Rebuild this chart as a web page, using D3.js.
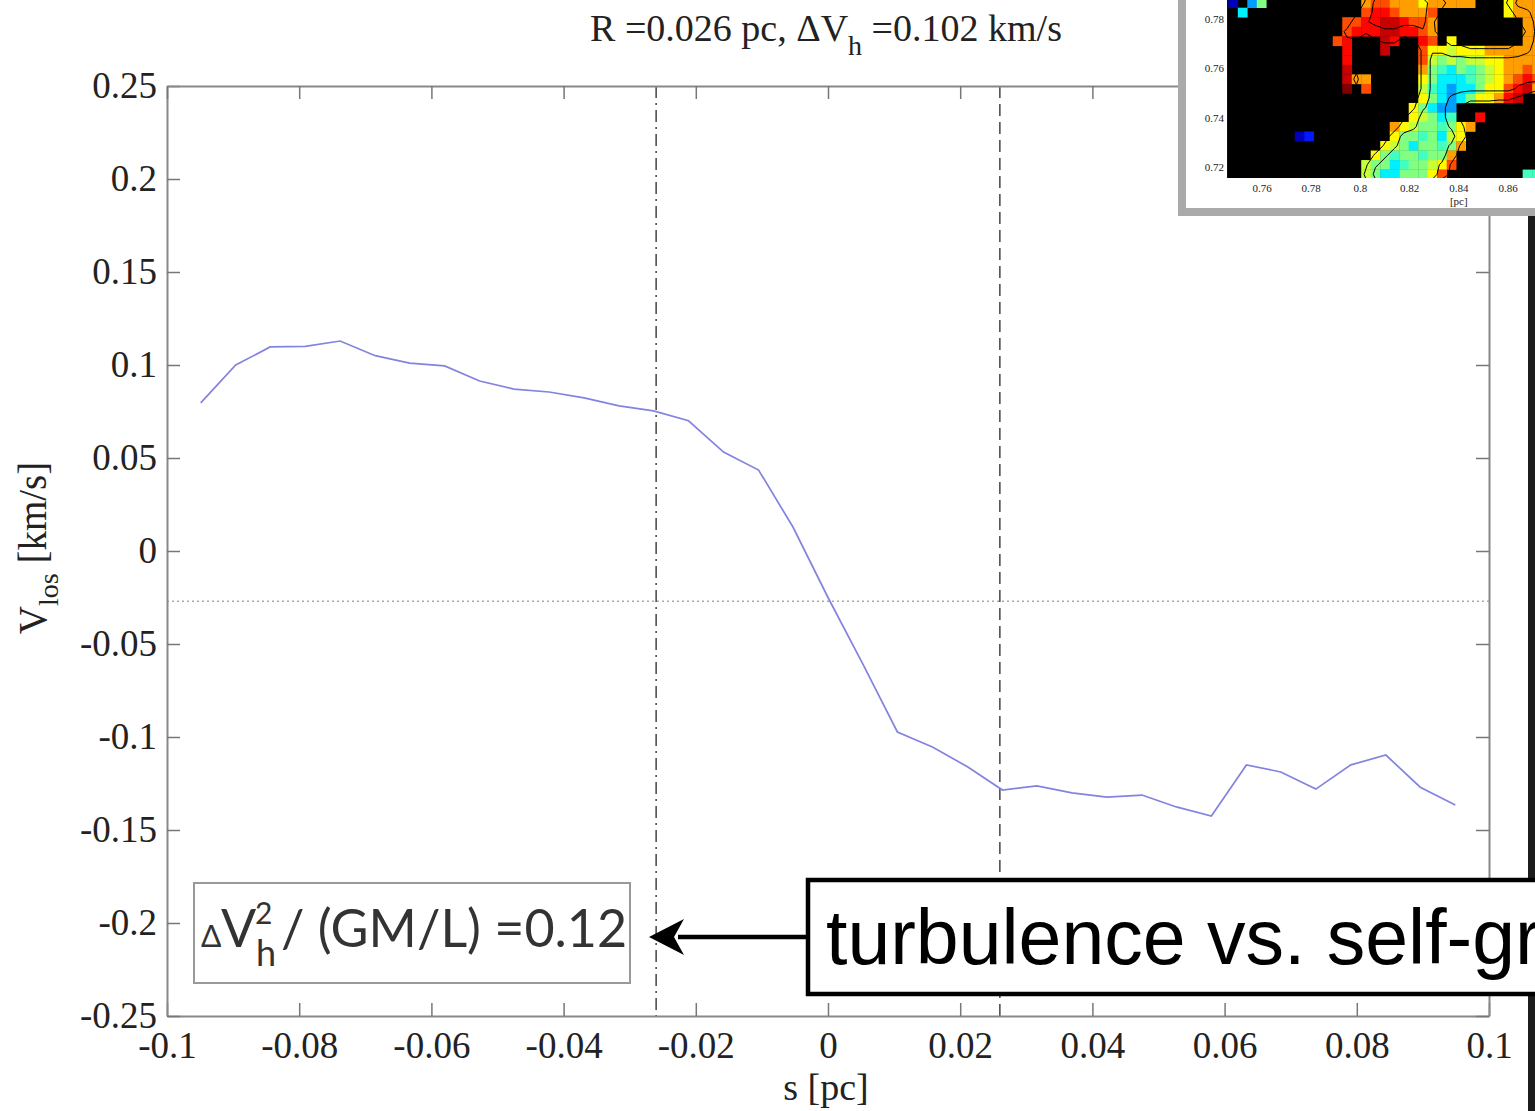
<!DOCTYPE html>
<html>

<head>
    <meta charset="utf-8">
    <title>Velocity profile</title>
    <script src="https://d3js.org/d3.v7.min.js"></script>
    <style>
        body {
            margin: 0;
            background: #fff;
        }

        .serif {
            font-family: "Liberation Serif", "Times New Roman", serif;
            fill: #222;
        }
    </style>
</head>

<body>
    <div id="chart"></div>
    <script>
        // profile along the cut (s in pc, V_los in km/s)
        const sValues = [-0.0949, -0.0896, -0.0844, -0.0791, -0.0738, -0.0685, -0.0633, -0.0580, -0.0527,
            -0.0475, -0.0422, -0.0369, -0.0316, -0.0264, -0.0211, -0.0158, -0.0105, -0.0053, 0,
            0.0053, 0.0105, 0.0158, 0.0211, 0.0264, 0.0316, 0.0369, 0.0422, 0.0475, 0.0527,
            0.0580, 0.0633, 0.0685, 0.0738, 0.0791, 0.0844, 0.0896, 0.0949]
        const vlosValues = [0.0796, 0.100, 0.1097, 0.110, 0.1129, 0.105, 0.101, 0.0995, 0.0914,
            0.087, 0.0855, 0.0823, 0.078, 0.0753, 0.070, 0.0532, 0.0435, 0.0129, -0.025,
            -0.061, -0.0973, -0.1054, -0.116, -0.1285, -0.1263, -0.130, -0.1323, -0.1312, -0.1376,
            -0.1425, -0.115, -0.1188, -0.128, -0.115, -0.1097, -0.127, -0.1366]

        const radius = 0.026        // R, marked by the two vertical lines
        const meanVlos = -0.027     // dotted horizontal line

        const xTicks = [-0.1, -0.08, -0.06, -0.04, -0.02, 0, 0.02, 0.04, 0.06, 0.08, 0.1]
        const xTickLabels = ["-0.1", "-0.08", "-0.06", "-0.04", "-0.02", "0", "0.02", "0.04", "0.06", "0.08", "0.1"]
        const yTicks = [-0.25, -0.2, -0.15, -0.1, -0.05, 0, 0.05, 0.1, 0.15, 0.2, 0.25]
        const yTickLabels = ["-0.25", "-0.2", "-0.15", "-0.1", "-0.05", "0", "0.05", "0.1", "0.15", "0.2", "0.25"]

        // inset map: one string per row, top row first; letters are velocity levels, "." is empty
        const heatRows = [
            "B.lg..........oOOoooYooooo...Yooo",
            ".c............OrrOoooO.......Yooo",
            "............OOrrRRrOOo.........oo",
            "............OrrrRRrrOo.........oo",
            "...........Or...Rr..rO.Y.......oo",
            "............r...R...OYYyYYYoooooo",
            "............r.......OygygyyYYoooo",
            "............R.......ogtcgtgyYooOo",
            "............Roo.....YgccctgyYoOrO",
            "............D.O.....ytclccgYYOrRo",
            "....................YgclcgYYorR..",
            "...................Ygcll.........",
            "...................Yygct..r......",
            ".................oYyggtgYo.......",
            ".......Bb........YggtgcyY........",
            "................Yygcggtgo........",
            "...............Ygtggtggo.........",
            "..............yggctggyYO.........",
            "..............ygccgggYO........tt"
        ]
        const heatLevels = { B: 0.05, b: 0.15, l: 0.28, c: 0.36, t: 0.44, g: 0.5, y: 0.57, Y: 0.63, o: 0.72, O: 0.8, r: 0.87, R: 0.93, D: 1.0 }
        const insetXTicks = [0.76, 0.78, 0.8, 0.82, 0.84, 0.86]
        const insetXLabels = ["0.76", "0.78", "0.8", "0.82", "0.84", "0.86"]
        const insetYTicks = [0.72, 0.74, 0.76, 0.78]
        const insetYLabels = ["0.72", "0.74", "0.76", "0.78"]

        const width = 1535, height = 1111

        const svg = d3.select("#chart")
            .append("svg")
            .attr("width", width)
            .attr("height", height)

        const x = d3.scaleLinear().domain([-0.1, 0.1]).range([167, 1489])
        const y = d3.scaleLinear().domain([-0.25, 0.25]).range([1016, 86])

        // reference lines
        svg.append("line")
            .attr("x1", x(-0.1)).attr("x2", x(0.1))
            .attr("y1", y(meanVlos)).attr("y2", y(meanVlos))
            .attr("stroke", "#aaa").attr("stroke-width", 1.5)
            .attr("stroke-dasharray", "2,3")
        svg.append("line")
            .attr("x1", x(-radius)).attr("x2", x(-radius))
            .attr("y1", y(0.25)).attr("y2", y(-0.25))
            .attr("stroke", "#444").attr("stroke-width", 1.5)
            .attr("stroke-dasharray", "12,5,2,5")
        svg.append("line")
            .attr("x1", x(radius)).attr("x2", x(radius))
            .attr("y1", y(0.25)).attr("y2", y(-0.25))
            .attr("stroke", "#444").attr("stroke-width", 1.5)
            .attr("stroke-dasharray", "12,6")

        // axes, MATLAB style box with inward ticks
        const styleAxis = g => {
            g.select(".domain").attr("stroke", "#888").attr("stroke-width", 2)
            g.selectAll(".tick line").attr("stroke", "#777").attr("stroke-width", 1.5)
            g.selectAll(".tick text")
                .attr("class", "serif")
                .attr("font-size", 37)
        }
        svg.append("g")
            .attr("transform", `translate(0,${y(-0.25)})`)
            .call(d3.axisBottom(x).tickValues(xTicks).tickSize(-13).tickSizeOuter(0).tickPadding(16)
                .tickFormat((d, i) => xTickLabels[i]))
            .call(styleAxis)
        svg.append("g")
            .attr("transform", `translate(${x(-0.1)},0)`)
            .call(d3.axisLeft(y).tickValues(yTicks).tickSize(-13).tickSizeOuter(0).tickPadding(10)
                .tickFormat((d, i) => yTickLabels[i]))
            .call(styleAxis)
        svg.append("g")
            .attr("transform", `translate(0,${y(0.25)})`)
            .call(d3.axisTop(x).tickValues(xTicks).tickSize(-13).tickSizeOuter(0).tickFormat(""))
            .call(styleAxis)
        svg.append("g")
            .attr("transform", `translate(${x(0.1)},0)`)
            .call(d3.axisRight(y).tickValues(yTicks).tickSize(-13).tickSizeOuter(0).tickFormat(""))
            .call(styleAxis)

        // the profile
        const line = d3.line()
            .x((d, i) => x(sValues[i]))
            .y(d => y(d))
        svg.append("path")
            .datum(vlosValues)
            .attr("d", line)
            .attr("fill", "none")
            .attr("stroke", "#8383e0")
            .attr("stroke-width", 1.7)

        // title and axis labels
        const title = svg.append("text")
            .attr("class", "serif")
            .attr("x", 826).attr("y", 41)
            .attr("text-anchor", "middle")
            .attr("font-size", 38)
        title.append("tspan").text("R =0.026 pc, \u0394V")
        title.append("tspan").attr("dy", 14).attr("font-size", 28).text("h")
        title.append("tspan").attr("dy", -14).text(" =0.102 km/s")

        svg.append("text")
            .attr("class", "serif")
            .attr("x", 826).attr("y", 1100)
            .attr("text-anchor", "middle")
            .attr("font-size", 38)
            .text("s [pc]")

        const ylab = svg.append("text")
            .attr("class", "serif")
            .attr("transform", "translate(46,548) rotate(-90)")
            .attr("text-anchor", "middle")
            .attr("font-size", 39)
        ylab.append("tspan").text("V")
        ylab.append("tspan").attr("dy", 12).attr("font-size", 28).text("los")
        ylab.append("tspan").attr("dy", -12).text(" [km/s]")

        // ratio box
        svg.append("rect")
            .attr("x", 194).attr("y", 883)
            .attr("width", 436).attr("height", 100)
            .attr("fill", "#fff")
            .attr("stroke", "#999").attr("stroke-width", 2)
        const boxFont = "Lato, 'Open Sans', sans-serif"
        const boxText = svg.append("g")
            .attr("font-family", boxFont)
            .attr("fill", "#333")
        boxText.append("text").attr("x", 201).attr("y", 947).attr("font-size", 30).text("\u0394")
        boxText.append("text").attr("x", 221).attr("y", 947).attr("font-size", 52).text("V")
        boxText.append("text").attr("x", 255).attr("y", 924).attr("font-size", 30).text("2")
        boxText.append("text").attr("x", 256).attr("y", 966).attr("font-size", 36).text("h")
        boxText.append("text").attr("x", 281).attr("y", 947).attr("font-size", 52).text("/ (GM/L) =0.12")

        // dark edge on the right
        svg.append("rect")
            .attr("x", 1528).attr("y", 214)
            .attr("width", 7).attr("height", height - 214)
            .attr("fill", "#1c1c1c")

        // annotation with arrow
        svg.append("line")
            .attr("x1", 808).attr("x2", 678)
            .attr("y1", 937).attr("y2", 937)
            .attr("stroke", "#000").attr("stroke-width", 4.5)
        svg.append("path")
            .attr("d", "M649,937 L684,919 L674,937 L684,955 Z")
            .attr("fill", "#000")
        svg.append("rect")
            .attr("x", 808).attr("y", 880)
            .attr("width", 800).attr("height", 114)
            .attr("fill", "#fff")
            .attr("stroke", "#000").attr("stroke-width", 4.5)
        svg.append("text")
            .attr("x", 826).attr("y", 964)
            .attr("font-family", "'Liberation Sans', Arial, sans-serif")
            .attr("font-size", 77)
            .attr("fill", "#000")
            .text("turbulence vs. self-gravity")

        // inset map
        const inset = svg.append("g")
        inset.append("rect")
            .attr("x", 1182).attr("y", -20)
            .attr("width", 400).attr("height", 232)
            .attr("fill", "#fff")
            .attr("stroke", "#aaa").attr("stroke-width", 8)

        const ix = d3.scaleLinear().domain([0.76, 0.86]).range([1262, 1508])
        const iy = d3.scaleLinear().domain([0.72, 0.78]).range([167, 19])
        const cell = 0.00386
        const cellX0 = 0.7463, cellY0 = 0.7151
        const nx = heatRows[0].length, ny = heatRows.length

        svg.append("clipPath").attr("id", "mapclip")
            .append("rect")
            .attr("x", ix(0.7458)).attr("y", 0)
            .attr("width", width - ix(0.7458)).attr("height", iy(0.7155))

        const map = inset.append("g").attr("clip-path", "url(#mapclip)")
        map.append("rect")
            .attr("x", ix(0.7458)).attr("y", 0)
            .attr("width", width - ix(0.7458)).attr("height", iy(0.7155))
            .attr("fill", "#000")

        const jet = d3.scaleLinear()
            .domain([0, 0.125, 0.375, 0.625, 0.875, 1])
            .range(["#00008f", "#0000ff", "#00ffff", "#ffff00", "#ff0000", "#800000"])

        const cells = []
        heatRows.forEach((row, j) => {
            row.split("").forEach((ch, i) => {
                if (ch !== ".") cells.push({ i, r: ny - 1 - j, v: heatLevels[ch] })
            })
        })
        map.selectAll("rect.cell")
            .data(cells)
            .join("rect")
            .attr("class", "cell")
            .attr("x", d => ix(cellX0 + d.i * cell))
            .attr("y", d => iy(cellY0 + (d.r + 1) * cell))
            .attr("width", ix(cellX0 + cell) - ix(cellX0) + 0.3)
            .attr("height", iy(cellY0) - iy(cellY0 + cell) + 0.3)
            .attr("fill", d => jet(d.v))

        // contours traced on a smoothed mask of the filled cells
        const occ = []
        heatRows.forEach(row => row.split("").forEach(ch => occ.push(ch === "." ? 0 : 1)))
        const smooth = occ.map((_, k) => {
            const i = k % nx, j = Math.floor(k / nx)
            let s = 0, n = 0
            for (let dj = -1; dj <= 1; dj++) {
                for (let di = -1; di <= 1; di++) {
                    const ii = i + di, jj = j + dj
                    if (ii >= 0 && ii < nx && jj >= 0 && jj < ny) { s += occ[jj * nx + ii]; n++ }
                }
            }
            return s / n
        })
        const contours = d3.contours().size([nx, ny]).thresholds([0.6, 0.92])(smooth)
        const gridTransform = d3.geoTransform({
            point(gx, gy) { this.stream.point(ix(cellX0 + gx * cell), iy(cellY0 + (ny - gy) * cell)) }
        })
        map.selectAll("path.contour")
            .data(contours)
            .join("path")
            .attr("class", "contour")
            .attr("d", d3.geoPath(gridTransform))
            .attr("fill", "none")
            .attr("stroke", "#000")
            .attr("stroke-width", 1)

        inset.selectAll("text.iy")
            .data(insetYTicks)
            .join("text")
            .attr("class", "iy serif")
            .attr("x", ix(0.7458) - 3)
            .attr("y", d => iy(d))
            .attr("dy", "0.35em")
            .attr("text-anchor", "end")
            .attr("font-size", 11)
            .text((d, i) => insetYLabels[i])
        inset.selectAll("text.ix")
            .data(insetXTicks)
            .join("text")
            .attr("class", "ix serif")
            .attr("x", d => ix(d))
            .attr("y", 192)
            .attr("text-anchor", "middle")
            .attr("font-size", 11)
            .text((d, i) => insetXLabels[i])
        inset.append("text")
            .attr("class", "serif")
            .attr("x", ix(0.84)).attr("y", 205)
            .attr("text-anchor", "middle")
            .attr("font-size", 11)
            .text("[pc]")
    </script>
</body>

</html>
